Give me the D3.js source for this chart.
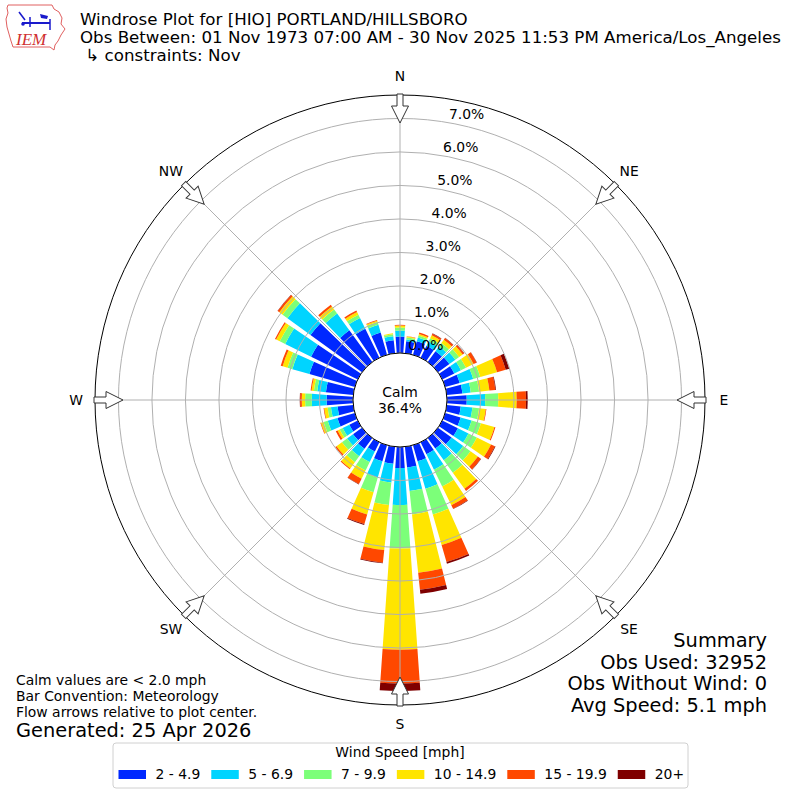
<!DOCTYPE html>
<html>
<head>
<meta charset="utf-8">
<title>Windrose HIO</title>
<script src="https://d3js.org/d3.v7.min.js"></script>
<style>
  body { margin: 0; background: #fff; }
  text { font-family: "DejaVu Sans", sans-serif; fill: #000; }
</style>
</head>
<body>
<script>
// wind directions (deg, meteorological: where wind comes from)
const directions = [0, 10, 20, 30, 40, 50, 60, 70, 80, 90, 100, 110, 120, 130, 140, 150, 160, 170,
                    180, 190, 200, 210, 220, 230, 240, 250, 260, 270, 280, 290, 300, 310, 320, 330, 340, 350]

// percent of obs per direction, one array per speed bin
const speed2to5   = [0.49, 0.36, 0.42, 0.40, 0.40, 0.42, 0.40, 0.45, 0.47, 0.59, 0.42, 0.48, 0.52, 0.50, 0.39, 0.40, 0.50, 0.62,
                     0.63, 0.51, 0.50, 0.31, 0.40, 0.33, 0.28, 0.54, 0.47, 0.79, 0.82, 1.41, 1.55, 1.90, 1.17, 0.96, 0.69, 0.39]
const speed5to7   = [0.18, 0.05, 0.12, 0.15, 0.18, 0.22, 0.22, 0.42, 0.25, 0.55, 0.35, 0.34, 0.35, 0.43, 0.43, 0.51, 0.85, 0.71,
                     1.10, 0.56, 0.51, 0.35, 0.27, 0.22, 0.22, 0.30, 0.20, 0.44, 0.26, 0.53, 0.86, 0.85, 0.62, 0.36, 0.24, 0.12]
const speed7to10  = [0.09, 0.06, 0.06, 0.10, 0.12, 0.14, 0.17, 0.22, 0.25, 0.39, 0.20, 0.29, 0.28, 0.27, 0.46, 0.56, 0.80, 0.70,
                     1.30, 0.68, 0.45, 0.28, 0.22, 0.19, 0.10, 0.13, 0.10, 0.20, 0.10, 0.15, 0.18, 0.18, 0.15, 0.11, 0.09, 0.06]
const speed10to15 = [0.06, 0.03, 0.05, 0.10, 0.12, 0.13, 0.25, 0.52, 0.31, 0.55, 0.20, 0.42, 0.47, 0.27, 0.59, 0.62, 0.95, 1.75,
                     3.02, 1.35, 0.69, 0.27, 0.23, 0.20, 0.07, 0.08, 0.10, 0.10, 0.07, 0.15, 0.12, 0.12, 0.11, 0.09, 0.04, 0.03]
const speed15to20 = [0.02, 0.01, 0.04, 0.05, 0.06, 0.05, 0.10, 0.27, 0.18, 0.28, 0.02, 0.03, 0.13, 0.11, 0.08, 0.12, 0.53, 0.51,
                     1.01, 0.38, 0.30, 0.18, 0.03, 0.05, 0.06, 0.02, 0.02, 0.05, 0.03, 0.06, 0.04, 0.06, 0.06, 0.05, 0.02, 0.00]
const speed20plus = [0.00, 0.00, 0.00, 0.01, 0.01, 0.01, 0.01, 0.11, 0.02, 0.05, 0.00, 0.00, 0.02, 0.01, 0.00, 0.01, 0.05, 0.12,
                     0.22, 0.02, 0.03, 0.01, 0.00, 0.00, 0.00, 0.00, 0.00, 0.01, 0.00, 0.00, 0.00, 0.01, 0.00, 0.00, 0.00, 0.00]

const speedBins = ["2 - 4.9", "5 - 6.9", "7 - 9.9", "10 - 14.9", "15 - 19.9", "20+"]
const binColors = ["#0028ff", "#00d4ff", "#7cff79", "#ffe500", "#ff4800", "#7f0000"]
const ringTicks = [0, 1, 2, 3, 4, 5, 6, 7]
const compass = [["N", 0], ["NE", 45], ["E", 90], ["SE", 135], ["S", 180], ["SW", 225], ["W", 270], ["NW", 315]]

const titleLines = ["Windrose Plot for [HIO] PORTLAND/HILLSBORO",
                    "Obs Between: 01 Nov 1973 07:00 AM - 30 Nov 2025 11:53 PM America/Los_Angeles",
                    " \u21b3 constraints: Nov"]
const notes = ["Calm values are < 2.0 mph", "Bar Convention: Meteorology", "Flow arrows relative to plot center."]
const summary = ["Summary", "Obs Used: 32952", "Obs Without Wind: 0", "Avg Speed: 5.1 mph"]
const calmPct = 36.4

const width = 800, height = 800
const cx = 400, cy = 400
const fs10 = "13.9px"   // 10pt at 100 dpi

const svg = d3.select("body").append("svg")
    .attr("width", width)
    .attr("height", height)

// build table for the stack
const series = [speed2to5, speed5to7, speed7to10, speed10to15, speed15to20, speed20plus]
const table = directions.map((dir, i) => {
  const row = {dir: dir}
  speedBins.forEach((b, j) => row[b] = series[j][i])
  return row
})
const stacked = d3.stack().keys(speedBins)(table)

const r = d3.scaleLinear().domain([0, 7.7]).range([47, 305])
const rad = d => d * Math.PI / 180
const halfWidth = 4  // bar is 8 of the 10 degrees

const plot = svg.append("g").attr("transform", `translate(${cx},${cy})`)

// bars
const arc = d3.arc()
plot.append("g").selectAll("g")
  .data(stacked)
  .join("g")
    .attr("fill", (d, i) => binColors[i])
  .selectAll("path")
  .data(d => d)
  .join("path")
    .attr("d", d => arc({
      innerRadius: r(d[0]),
      outerRadius: r(d[1]),
      startAngle: rad(d.data.dir - halfWidth),
      endAngle: rad(d.data.dir + halfWidth)
    }))

// grid on top of bars
const grid = plot.append("g")
    .attr("fill", "none")
    .attr("stroke", "#b0b0b0")
    .attr("stroke-width", 1)
grid.selectAll("circle")
  .data(ringTicks)
  .join("circle")
    .attr("r", d => r(d))
grid.selectAll("line")
  .data(compass)
  .join("line")
    .attr("x1", 0).attr("y1", 0)
    .attr("x2", d => r.range()[1] * Math.sin(rad(d[1])))
    .attr("y2", d => -r.range()[1] * Math.cos(rad(d[1])))

// outer frame
plot.append("circle")
    .attr("r", r.range()[1])
    .attr("fill", "none")
    .attr("stroke", "#000")
    .attr("stroke-width", 1)

// calm circle
plot.append("circle")
    .attr("r", r(0))
    .attr("fill", "#fff")
    .attr("stroke", "#000")
    .attr("stroke-width", 1)
plot.append("text")
    .attr("text-anchor", "middle")
    .attr("y", -3)
    .style("font-size", fs10)
    .text("Calm")
plot.append("text")
    .attr("text-anchor", "middle")
    .attr("y", 13)
    .style("font-size", fs10)
    .text(calmPct.toFixed(1) + "%")

// radial labels, placed along 10 degrees
const labelAngle = rad(10)
plot.append("g").selectAll("text")
  .data(ringTicks)
  .join("text")
    .attr("x", d => r(d) * Math.sin(labelAngle))
    .attr("y", d => -r(d) * Math.cos(labelAngle) - 4)
    .style("font-size", fs10)
    .text(d => d.toFixed(1) + "%")

// flow arrows at compass points, pointing inward
const rOut = r.range()[1]
const arrowPts = [[-3, -rOut - 1], [3, -rOut - 1], [3, -rOut + 11], [8.5, -rOut + 11],
                  [0, -rOut + 28], [-8.5, -rOut + 11], [-3, -rOut + 11]]
plot.append("g").selectAll("polygon")
  .data(compass)
  .join("polygon")
    .attr("points", arrowPts.map(p => p.join(",")).join(" "))
    .attr("transform", d => `rotate(${d[1]})`)
    .attr("fill", "#fff")
    .attr("stroke", "#333")
    .attr("stroke-width", 1)

// compass labels
plot.append("g").selectAll("text")
  .data(compass)
  .join("text")
    .attr("x", d => 324 * Math.sin(rad(d[1])))
    .attr("y", d => -324 * Math.cos(rad(d[1])))
    .attr("text-anchor", "middle")
    .attr("dy", "0.36em")
    .style("font-size", fs10)
    .text(d => d[0])

// title
svg.append("g").selectAll("text")
  .data(titleLines)
  .join("text")
    .attr("x", 80)
    .attr("y", (d, i) => 25 + i * 18)
    .attr("xml:space", "preserve")
    .style("white-space", "pre")
    .style("font-size", "16.67px")
    .text(d => d)

// IEM logo (rough)
const logo = svg.append("g")
const iowa = [[8, 5], [52, 5], [54, 9], [59, 12], [62, 18], [61, 24], [65, 29], [61, 35], [58, 41],
              [55, 45], [54, 50], [50, 47], [13, 47], [11, 41], [9, 34], [7, 27], [6, 19], [8, 13], [7, 8]]
logo.append("path")
    .attr("d", d3.line()(iowa) + "Z")
    .attr("fill", "none")
    .attr("stroke", "#e06060")
    .attr("stroke-width", 1)
logo.append("line").attr("x1", 22).attr("y1", 23).attr("x2", 50).attr("y2", 23)
    .attr("stroke", "#1a1acc").attr("stroke-width", 2)
logo.append("line").attr("x1", 19).attr("y1", 12).attr("x2", 25).attr("y2", 20)
    .attr("stroke", "#1a1acc").attr("stroke-width", 1.5)
logo.append("line").attr("x1", 30).attr("y1", 17).attr("x2", 30).attr("y2", 27)
    .attr("stroke", "#1a1acc").attr("stroke-width", 1.5)
logo.append("path").attr("d", "M40,14 L48,16 L47,19 L41,18 Z").attr("fill", "#1a1acc")
logo.append("line").attr("x1", 50).attr("y1", 19).attr("x2", 50).attr("y2", 30)
    .attr("stroke", "#1a1acc").attr("stroke-width", 1.5)
logo.append("circle").attr("cx", 23).attr("cy", 24).attr("r", 1.8).attr("fill", "#1a1acc")
logo.append("text")
    .attr("x", 16).attr("y", 45)
    .style("font-family", "'Liberation Serif', serif")
    .style("font-style", "italic")
    .style("font-size", "17px")
    .style("fill", "#d03030")
    .text("IEM")

// notes bottom left
svg.append("g").selectAll("text")
  .data(notes)
  .join("text")
    .attr("x", 16)
    .attr("y", (d, i) => 685 + i * 16)
    .style("font-size", fs10)
    .text(d => d)
svg.append("text")
    .attr("x", 16)
    .attr("y", 737)
    .style("font-size", "19.4px")
    .text("Generated: 25 Apr 2026")

// summary bottom right
svg.append("g").selectAll("text")
  .data(summary)
  .join("text")
    .attr("x", 767)
    .attr("y", (d, i) => 647 + i * 21.7)
    .attr("text-anchor", "end")
    .style("font-size", "19.4px")
    .text(d => d)

// legend
const legend = svg.append("g")
legend.append("rect")
    .attr("x", 113).attr("y", 743)
    .attr("width", 575).attr("height", 45)
    .attr("rx", 3)
    .attr("fill", "#fff")
    .attr("stroke", "#d0d0d0")
legend.append("text")
    .attr("x", 400).attr("y", 757)
    .attr("text-anchor", "middle")
    .style("font-size", fs10)
    .text("Wind Speed [mph]")
let lx = 118.5
speedBins.forEach((b, i) => {
  const g = legend.append("g").attr("transform", `translate(${lx},770)`)
  g.append("rect")
      .attr("width", 27.5).attr("height", 9)
      .attr("fill", binColors[i])
  const t = g.append("text")
      .attr("x", 37).attr("y", 9)
      .style("font-size", fs10)
      .text(b)
  lx += 37 + t.node().getComputedTextLength() + 11
})
</script>
</body>
</html>
